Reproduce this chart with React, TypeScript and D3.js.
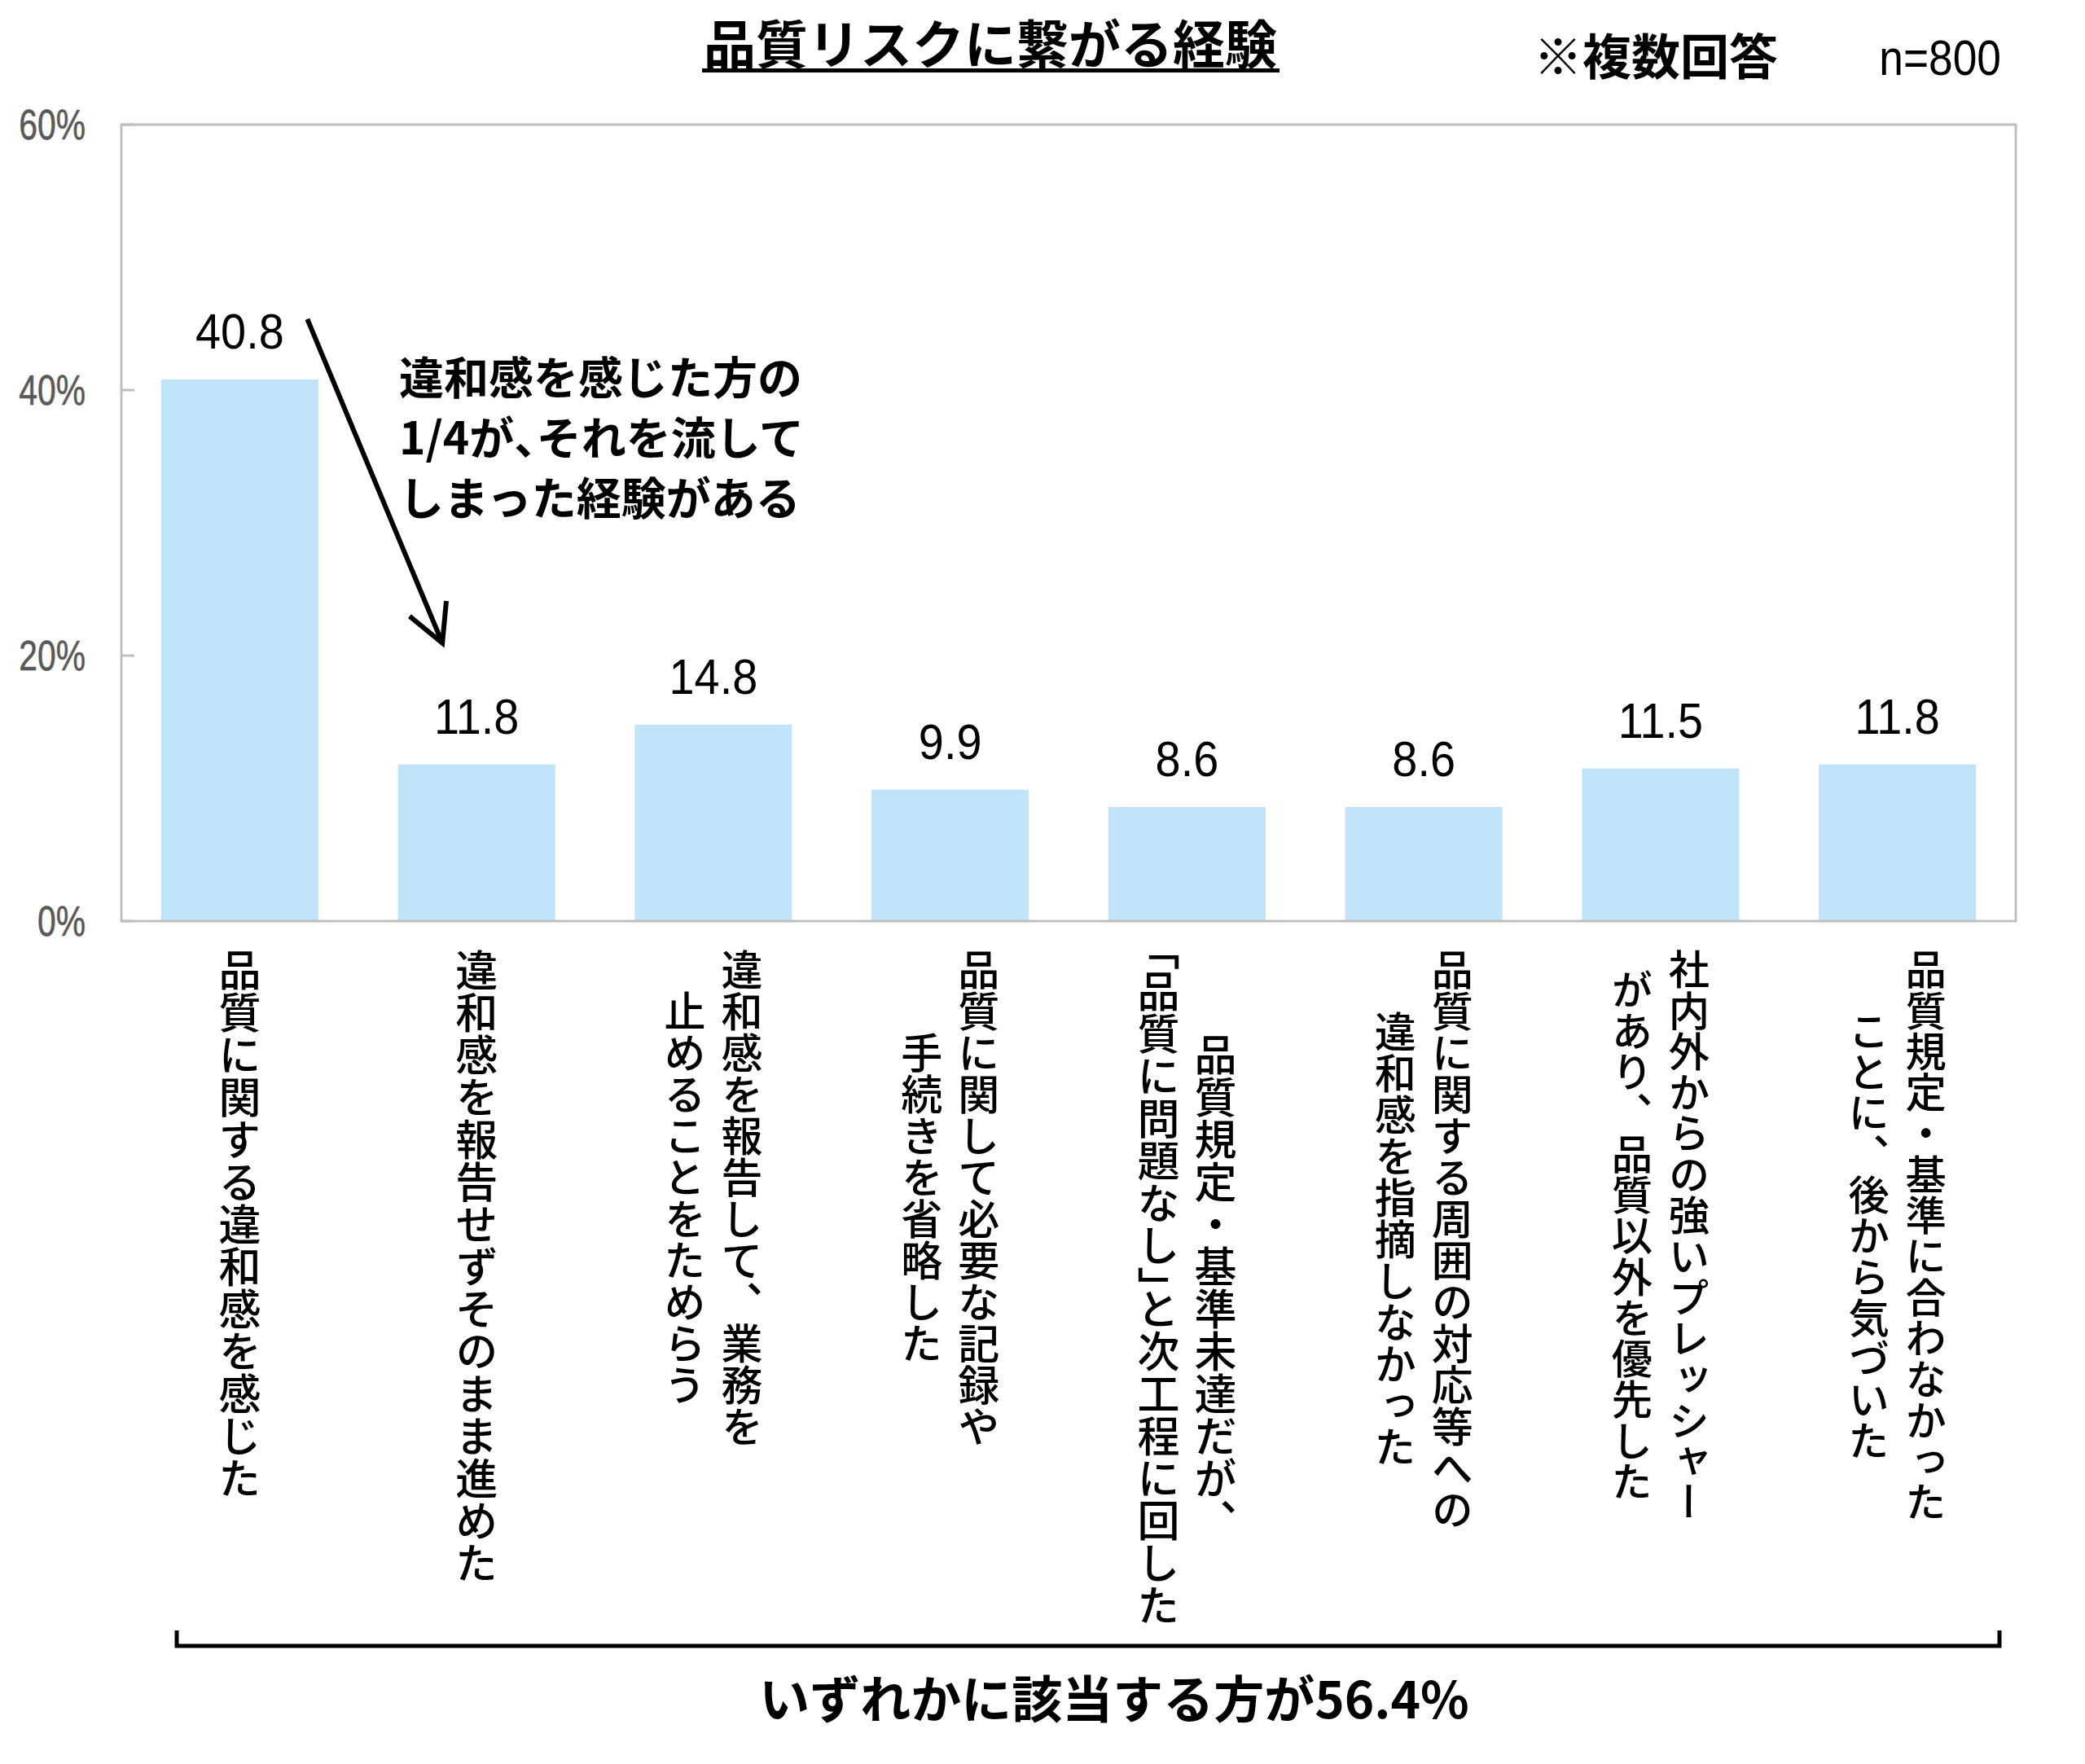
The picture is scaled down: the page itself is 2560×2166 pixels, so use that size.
import React from 'react';
import * as d3 from 'd3';

// ---------- data ----------
const categoryLines: string[][] = [
  ['品質に関する違和感を感じた'],
  ['違和感を報告せずそのまま進めた'],
  ['違和感を報告して、業務を', '止めることをためらう'],
  ['品質に関して必要な記録や', '手続きを省略した'],
  ['品質規定・基準未達だが、', '「品質に問題なし」と次工程に回した'],
  ['品質に関する周囲の対応等への', '違和感を指摘しなかった'],
  ['社内外からの強いプレッシャー', 'があり、品質以外を優先した'],
  ['品質規定・基準に合わなかった', 'ことに、後から気づいた'],
];
const values: number[] = [40.8, 11.8, 14.8, 9.9, 8.6, 8.6, 11.5, 11.8];
const yTicks: number[] = [0, 20, 40, 60];
const titleText = '品質リスクに繋がる経験';
const noteText = '※複数回答';
const sampleText = 'n=800';
const annotationLines: string[] = ['違和感を感じた方の', '1/4が、それを流して', 'しまった経験がある'];
const summaryText = 'いずれかに該当する方が56.4%';

// ---------- layout ----------
const W = 2560;
const H = 2166;
const plot = { left: 149, right: 2475, top: 153, bottom: 1131 };
const JP = '"Noto Sans CJK JP", "Noto Sans", sans-serif';
const LAT = '"Liberation Sans", Arial, sans-serif';
const labelFont = [52, 52, 51, 51, 52, 51, 50.3, 50.3];

const emLen = (s: string) =>
  Array.from(s).reduce((a, c) => a + (c === '「' || c === '」' ? 0.5 : 1), 0);

function VLine({ text, x, y, fs }: { text: string; x: number; y: number; fs: number }) {
  const parts: { t: string; br: boolean }[] = [];
  for (const c of Array.from(text)) {
    const br = c === '「' || c === '」';
    const last = parts[parts.length - 1];
    if (last && last.br === br && !br) last.t += c;
    else parts.push({ t: c, br });
  }
  return (
    <text
      x={x}
      y={y}
      textAnchor="middle"
      fontSize={fs}
      fontFamily={JP}
      fontWeight={500}
      fill="#000"
      style={{ writingMode: 'vertical-rl' } as any}
    >
      {parts.map((p, i) =>
        p.br ? (
          <tspan key={i} style={{ fontFeatureSettings: '"vhal" 1' } as any}>
            {p.t}
          </tspan>
        ) : (
          <tspan key={i}>{p.t}</tspan>
        )
      )}
    </text>
  );
}

function HalfComma({ text }: { text: string }) {
  const segs = text.split('、');
  return (
    <>
      {segs.map((s, i) => (
        <React.Fragment key={i}>
          <tspan>{s}</tspan>
          {i < segs.length - 1 && <tspan style={{ fontFeatureSettings: '"halt" 1' } as any}>、</tspan>}
        </React.Fragment>
      ))}
    </>
  );
}

export default function App() {
  const x = d3
    .scaleBand<number>()
    .domain(values.map((_, i) => i))
    .range([plot.left, plot.right])
    .paddingInner(0.336)
    .paddingOuter(0.168);
  const y = d3.scaleLinear().domain([0, 60]).range([plot.bottom, plot.top]);
  const cx = (i: number) => (x(i) as number) + x.bandwidth() / 2;

  // annotation arrow anchored to bars 0 and 1
  const a0 = { x: cx(0) + 83, y: y(values[0]) - 74 };
  const a1 = { x: cx(1) - 42, y: y(values[1]) - 149 };
  const ang = Math.atan2(a0.y - a1.y, a0.x - a1.x);
  const headLen = 52;
  const headAng = (28 * Math.PI) / 180;
  const h1 = { x: a1.x + headLen * Math.cos(ang - headAng), y: a1.y + headLen * Math.sin(ang - headAng) };
  const h2 = { x: a1.x + headLen * Math.cos(ang + headAng), y: a1.y + headLen * Math.sin(ang + headAng) };

  const labelTop = 1165;
  const colGap = 70;

  return (
    <svg
      width={W}
      height={H}
      viewBox={`0 0 ${W} ${H}`}
      style={{ position: 'absolute', left: 0, top: 0, display: 'block', background: '#fff' }}
    >
      <rect x={0} y={0} width={W} height={H} fill="#fff" />

      {/* title */}
      <text x={1216} y={78} textAnchor="middle" fontSize={64} fontWeight={700} fontFamily={JP} fill="#000">
        {titleText}
      </text>
      <rect x={862} y={84} width={709} height={5} fill="#000" />
      <text x={1883} y={92} fontSize={60} fontWeight={700} fontFamily={JP} fill="#000">
        {noteText}
      </text>
      <text transform="translate(2457,92) scale(0.86,1)" textAnchor="end" fontSize={62} fontFamily={LAT} fill="#000">
        {sampleText}
      </text>

      {/* bars */}
      {values.map((v, i) => (
        <rect key={i} x={x(i)} y={y(v)} width={x.bandwidth()} height={y(0) - y(v)} fill="#C1E4FA" />
      ))}

      {/* plot border */}
      <rect
        x={plot.left}
        y={plot.top}
        width={plot.right - plot.left}
        height={plot.bottom - plot.top}
        fill="none"
        stroke="#BFBFBF"
        strokeWidth={3}
      />
      {yTicks.map((t) => (
        <g key={t}>
          <line x1={plot.left} x2={plot.left + 16} y1={y(t)} y2={y(t)} stroke="#BFBFBF" strokeWidth={3} />
          <text
            transform={`translate(105,${y(t) + 18}) scale(0.8,1)`}
            textAnchor="end"
            fontSize={51}
            fontFamily={LAT}
            fill="#595959"
            stroke="#595959"
            strokeWidth={0.6}
          >
            {`${t}%`}
          </text>
        </g>
      ))}

      {/* value labels */}
      {values.map((v, i) => (
        <text
          key={i}
          transform={`translate(${cx(i)},${y(v) - 38}) scale(0.9,1)`}
          textAnchor="middle"
          fontSize={62}
          fontFamily={LAT}
          fill="#000"
        >
          {v.toFixed(1)}
        </text>
      ))}

      {/* category labels (vertical) */}
      {categoryLines.map((lines, i) => {
        const fs = labelFont[i];
        const maxEm = Math.max(...lines.map(emLen));
        const center = labelTop + (maxEm * fs) / 2;
        const n = lines.length;
        return (
          <g key={i}>
            {lines.map((ln, j) => {
              const colX = cx(i) + ((n - 1) / 2 - j) * colGap;
              return <VLine key={j} text={ln} x={colX} y={center} fs={fs} />;
            })}
          </g>
        );
      })}

      {/* annotation */}
      <line x1={a0.x} y1={a0.y} x2={a1.x} y2={a1.y} stroke="#000" strokeWidth={6} />
      <polyline
        points={`${h1.x},${h1.y} ${a1.x},${a1.y} ${h2.x},${h2.y}`}
        fill="none"
        stroke="#000"
        strokeWidth={6}
        strokeLinejoin="miter"
      />
      {annotationLines.map((t, i) => (
        <text key={i} x={490} y={484 + i * 74} fontSize={55} fontWeight={700} fontFamily={JP} fill="#000">
          <HalfComma text={t} />
        </text>
      ))}

      {/* bracket */}
      <path d="M217,2002 V2021 H2455 V2002" fill="none" stroke="#000" strokeWidth={5} />

      {/* summary */}
      <text x={1368} y={2110} textAnchor="middle" fontSize={62} fontWeight={700} fontFamily={JP} fill="#000">
        {summaryText}
      </text>
    </svg>
  );
}
